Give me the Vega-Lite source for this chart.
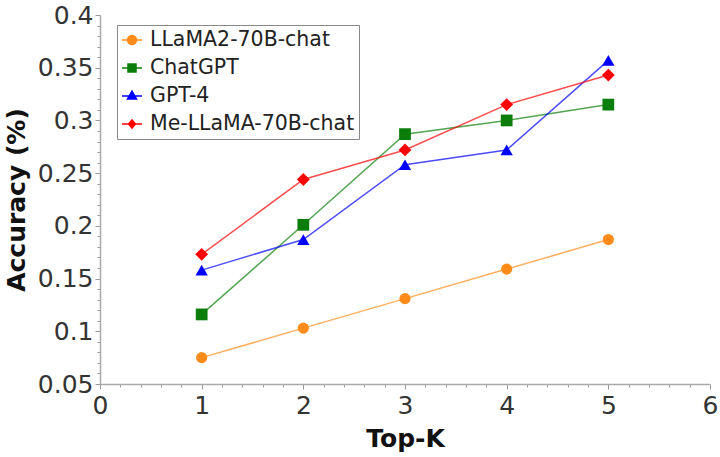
{
  "$schema": "https://vega.github.io/schema/vega-lite/v6.json",
  "width": 610,
  "height": 369,
  "autosize": {"type": "none"},
  "padding": {"left": 100, "top": 15, "right": 10, "bottom": 73},
  "background": "white",
  "config": {
    "view": {"stroke": null},
    "font": "DejaVu Sans",
    "legend": {
      "orient": "none",
      "legendX": 17,
      "legendY": 10,
      "padding": 4,
      "strokeColor": "#888888",
      "fillColor": "white",
      "rowPadding": 6,
      "labelOffset": 7,
      "symbolSize": 400,
      "symbolStrokeWidth": 1.5,
      "symbolOpacity": 1,
      "labelFontSize": 20.5,
      "labelFont": "DejaVu Sans",
      "labelColor": "#222222",
      "labelLimit": 400
    }
  },
  "data": {
    "values": [
      {"model": "LLaMA2-70B-chat", "k": 1, "acc": 0.075},
      {"model": "LLaMA2-70B-chat", "k": 2, "acc": 0.103},
      {"model": "LLaMA2-70B-chat", "k": 3, "acc": 0.131},
      {"model": "LLaMA2-70B-chat", "k": 4, "acc": 0.159},
      {"model": "LLaMA2-70B-chat", "k": 5, "acc": 0.187},
      {"model": "ChatGPT", "k": 1, "acc": 0.116},
      {"model": "ChatGPT", "k": 2, "acc": 0.201},
      {"model": "ChatGPT", "k": 3, "acc": 0.287},
      {"model": "ChatGPT", "k": 4, "acc": 0.300},
      {"model": "ChatGPT", "k": 5, "acc": 0.315},
      {"model": "GPT-4", "k": 1, "acc": 0.158},
      {"model": "GPT-4", "k": 2, "acc": 0.187},
      {"model": "GPT-4", "k": 3, "acc": 0.258},
      {"model": "GPT-4", "k": 4, "acc": 0.272},
      {"model": "GPT-4", "k": 5, "acc": 0.357},
      {"model": "Me-LLaMA-70B-chat", "k": 1, "acc": 0.173},
      {"model": "Me-LLaMA-70B-chat", "k": 2, "acc": 0.244},
      {"model": "Me-LLaMA-70B-chat", "k": 3, "acc": 0.272},
      {"model": "Me-LLaMA-70B-chat", "k": 4, "acc": 0.315},
      {"model": "Me-LLaMA-70B-chat", "k": 5, "acc": 0.343}
    ]
  },
  "encoding": {
    "x": {
      "field": "k",
      "type": "quantitative",
      "scale": {"domain": [0, 6], "nice": false, "zero": false},
      "axis": {
        "title": "Top-K",
        "titleFont": "DejaVu Sans",
        "titleFontSize": 25,
        "titleFontWeight": "bold",
        "titleColor": "#111111",
        "titlePadding": 8,
        "values": [0,0.2,0.4,0.6,0.8,1,1.2,1.4,1.6,1.8,2,2.2,2.4,2.6,2.8,3,3.2,3.4,3.6,3.8,4,4.2,4.4,4.6,4.8,5,5.2,5.4,5.6,5.8,6],
        "labelExpr": "abs(datum.value - round(datum.value)) < 1e-6 ? format(datum.value, 'd') : ''",
        "labelOverlap": false,
        "labelFlush": false,
        "labelFontSize": 25,
        "labelColor": "#333333",
        "labelPadding": 4,
        "tickSize": {"condition": {"test": "abs(datum.value - round(datum.value)) < 1e-6", "value": 5}, "value": 3},
        "tickColor": "#999999",
        "domainColor": "#aaaaaa",
        "domainWidth": 1.5,
        "grid": false
      }
    },
    "y": {
      "field": "acc",
      "type": "quantitative",
      "scale": {"domain": [0.05, 0.4], "nice": false, "zero": false},
      "axis": {
        "title": "Accuracy (%)",
        "titleFont": "DejaVu Sans",
        "titleFontSize": 25,
        "titleFontWeight": "bold",
        "titleColor": "#111111",
        "titlePadding": 8,
        "values": [0.05,0.06,0.07,0.08,0.09,0.1,0.11,0.12,0.13,0.14,0.15,0.16,0.17,0.18,0.19,0.2,0.21,0.22,0.23,0.24,0.25,0.26,0.27,0.28,0.29,0.3,0.31,0.32,0.33,0.34,0.35,0.36,0.37,0.38,0.39,0.4],
        "labelExpr": "abs(datum.value * 20 - round(datum.value * 20)) < 1e-6 ? format(datum.value, '.2~f') : ''",
        "labelOverlap": false,
        "labelFlush": false,
        "labelFontSize": 25,
        "labelColor": "#333333",
        "labelPadding": 2,
        "tickSize": {"condition": {"test": "abs(datum.value * 20 - round(datum.value * 20)) < 1e-6", "value": 5}, "value": 3},
        "tickColor": "#999999",
        "domainColor": "#aaaaaa",
        "domainWidth": 1.5,
        "grid": false
      }
    }
  },
  "layer": [
    {
      "mark": {"type": "line", "strokeWidth": 1.5, "opacity": 0.7},
      "encoding": {
        "color": {
          "field": "model",
          "type": "nominal",
          "scale": {"domain": ["LLaMA2-70B-chat", "ChatGPT", "GPT-4", "Me-LLaMA-70B-chat"], "range": ["#ff8c1a", "#0a7d0a", "#0000ff", "#ff0000"]},
          "legend": null
        }
      }
    },
    {
      "mark": {"type": "point", "filled": true, "opacity": 1},
      "encoding": {
        "color": {
          "field": "model",
          "type": "nominal",
          "scale": {"domain": ["LLaMA2-70B-chat", "ChatGPT", "GPT-4", "Me-LLaMA-70B-chat"], "range": ["#ff8c1a", "#0a7d0a", "#0000ff", "#ff0000"]},
          "legend": null
        },
        "shape": {
          "field": "model",
          "type": "nominal",
          "scale": {"domain": ["LLaMA2-70B-chat", "ChatGPT", "GPT-4", "Me-LLaMA-70B-chat"], "range": ["circle", "square", "triangle-up", "diamond"]},
          "legend": null
        },
        "size": {
          "field": "model",
          "type": "nominal",
          "scale": {"domain": ["LLaMA2-70B-chat", "ChatGPT", "GPT-4", "Me-LLaMA-70B-chat"], "range": [125, 165, 130, 95]},
          "legend": null
        }
      }
    },
    {
      "transform": [{"filter": "false"}],
      "mark": {"type": "point", "filled": true, "opacity": 1},
      "encoding": {
        "fill": {
          "field": "model",
          "type": "nominal",
          "scale": {"domain": ["LLaMA2-70B-chat", "ChatGPT", "GPT-4", "Me-LLaMA-70B-chat"], "range": ["#ff8c1a", "#0a7d0a", "#0000ff", "#ff0000"]},
          "legend": {"title": null, "symbolOpacity": 1}
        },
        "stroke": {
          "field": "model",
          "type": "nominal",
          "scale": {"domain": ["LLaMA2-70B-chat", "ChatGPT", "GPT-4", "Me-LLaMA-70B-chat"], "range": ["#ff8c1a", "#0a7d0a", "#0000ff", "#ff0000"]},
          "legend": {"title": null, "symbolOpacity": 1}
        },
        "shape": {
          "field": "model",
          "type": "nominal",
          "scale": {"domain": ["LLaMA2-70B-chat", "ChatGPT", "GPT-4", "Me-LLaMA-70B-chat"], "range": [
            "M-1,0H1M-0.45,0A0.45,0.45,0,1,0,0.45,0A0.45,0.45,0,1,0,-0.45,0Z",
            "M-1,0H1M-0.4,-0.4H0.4V0.4H-0.4Z",
            "M-1,0H1M0,-0.5L0.45,0.3H-0.45Z",
            "M-1,0H1M0,-0.4L0.35,0L0,0.4L-0.35,0Z"
          ]},
          "legend": {"title": null, "symbolOpacity": 1}
        }
      }
    }
  ],
  "resolve": {"scale": {"shape": "independent", "fill": "independent", "stroke": "independent"}}
}
